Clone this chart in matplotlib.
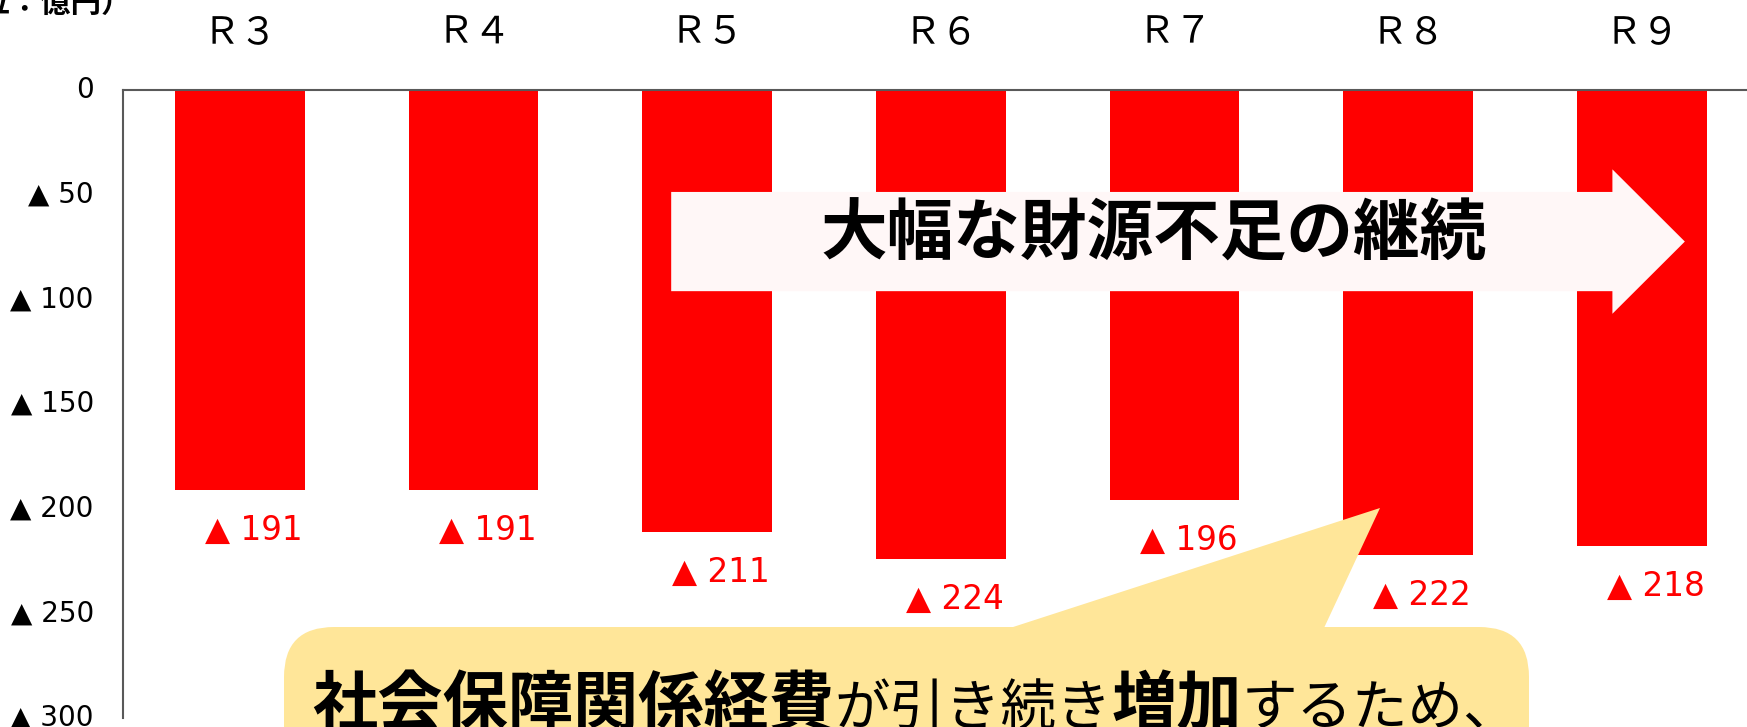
import matplotlib
matplotlib.use("Agg")
import matplotlib.pyplot as plt
from matplotlib.patches import FancyArrow, FancyBboxPatch, Polygon
from matplotlib.transforms import Affine2D

# ---- data ---------------------------------------------------------------- #
years = ["Ｒ３", "Ｒ４", "Ｒ５", "Ｒ６", "Ｒ７", "Ｒ８", "Ｒ９"]
shortfall = [191, 191, 211, 224, 196, 222, 218]   # 億円 (shown as ▲)
yticks = [0, 50, 100, 150, 200, 250, 300]

W, H = 1747, 727
JP = ["Noto Sans CJK JP", "DejaVu Sans"]
RED = "#FF0000"
YELLOW = "#FFE699"

fig = plt.figure(figsize=(W / 100, H / 100), dpi=100)
px = Affine2D().scale(1, -1).translate(0, H) + Affine2D().scale(1 / 100) + fig.dpi_scale_trans  # pixels, y from top

ax = fig.add_axes([123 / W, 9 / H, 1 - 123 / W, (718 - 90) / H])
ax.bar(range(len(years)), [-v for v in shortfall], width=0.556, color=RED, zorder=2)
ax.set_xlim(-0.5, 6.45)
ax.set_ylim(-300, 0)

ax.set_yticks([-v for v in yticks])
ax.set_yticklabels(["0" if v == 0 else f"▲ {v}" for v in yticks], fontsize=20, family="DejaVu Sans")
for lab in ax.get_yticklabels():
    lab.set_verticalalignment("center")
ax.tick_params(axis="y", length=0, pad=21)
ax.xaxis.tick_top()
ax.set_xticks(range(len(years)))
ax.set_xticklabels(years, fontsize=27, family=JP)
ax.tick_params(axis="x", length=0, pad=27)
for s in ["right", "bottom"]:
    ax.spines[s].set_visible(False)
for s in ["left", "top"]:
    ax.spines[s].set_color("#595959")
    ax.spines[s].set_linewidth(1.5)

# value labels below each bar
for i, v in enumerate(shortfall):
    ax.annotate(f"▲ {v}", (i + 0.06, -v), xytext=(0, -29), textcoords="offset points",
                ha="center", va="center", color=RED, fontsize=23.5, family="DejaVu Sans", zorder=3)

# big arrow across R5..R9
ax.add_patch(FancyArrow(1.846, -72.4, 4.338, 0, width=47.4, head_width=69, head_length=0.31,
                        length_includes_head=True, color="#FFF7F7", lw=0, zorder=4))
ax.text(3.91, -69.5, "大幅な財源不足の継続", ha="center", va="center", fontsize=48,
        fontweight="bold", family=JP, zorder=5)

# unit label (cut off at top-left)
fig.text(132, 12, "（単位：億円）", transform=px, ha="right", va="baseline",
         fontsize=22, fontweight="bold", family=JP)

# callout box
fig.patches.append(FancyBboxPatch((284, 627), 1245, 200, boxstyle="round,pad=0,rounding_size=50",
                                  transform=px, fc=YELLOW, ec="none", zorder=6))
fig.patches.append(Polygon([(1010, 628), (1324, 628), (1380, 508)], closed=True,
                           transform=px, fc=YELLOW, ec="none", zorder=6))

parts = [("社会保障関係経費", "bold", 47), ("が引き続き", "normal", 40),
         ("増加", "bold", 47), ("するため、", "normal", 40)]
renderer = fig.canvas.get_renderer()
x = 312
for s, wgt, fs in parts:
    t = fig.text(x, 725, s, transform=px, ha="left", va="baseline", fontsize=fs,
                 fontweight=wgt, family=JP, zorder=7)
    x += t.get_window_extent(renderer).width

fig.savefig("out.png", dpi=100)
